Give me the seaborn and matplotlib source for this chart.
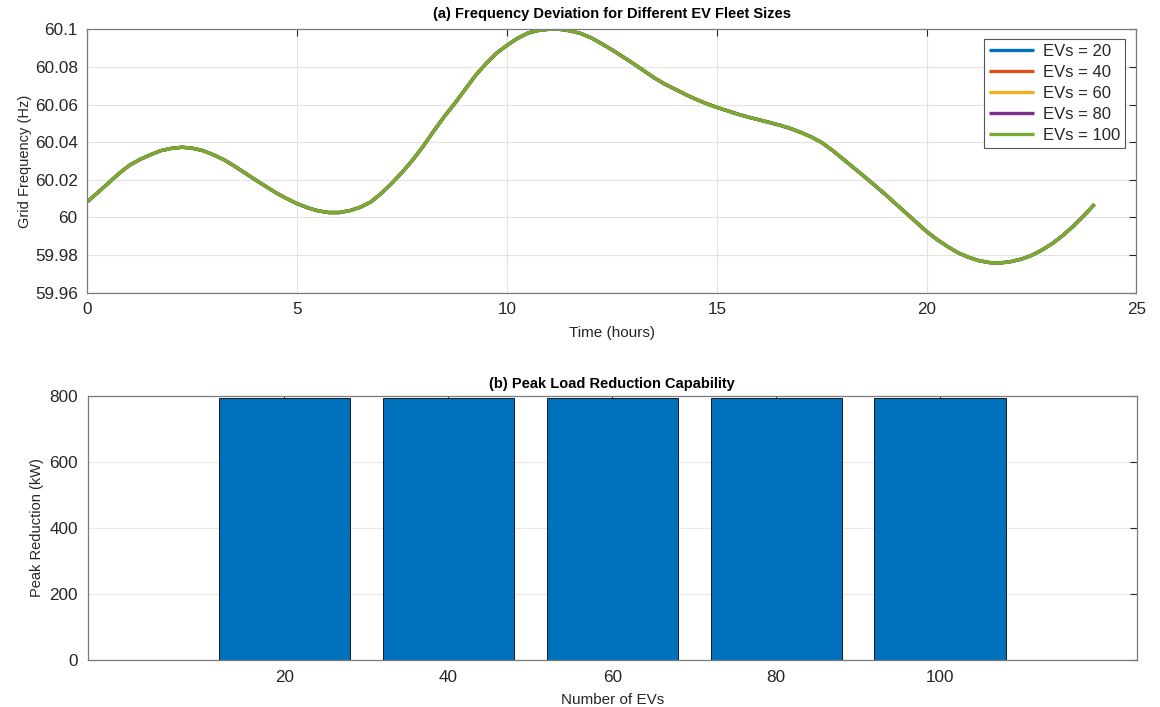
import numpy as np
import pandas as pd
import matplotlib
matplotlib.use('Agg')
import matplotlib.pyplot as plt
import seaborn as sns
from matplotlib.ticker import FuncFormatter

# frequency curve every quarter hour (same for every fleet size)
hours = [i * 0.25 for i in range(97)]
freq = [60.0084, 60.0133, 60.0183, 60.0233, 60.0277, 60.0308, 60.0333, 60.0355,
        60.0367, 60.0373, 60.0368, 60.0355, 60.0333, 60.0307, 60.0273, 60.0237,
        60.0200, 60.0165, 60.0130, 60.0100, 60.0073, 60.0051, 60.0035, 60.0026,
        60.0026, 60.0036, 60.0054, 60.0082, 60.0127, 60.0181, 60.0240, 60.0305,
        60.0378, 60.0458, 60.0535, 60.0605, 60.0680, 60.0755, 60.0818, 60.0873,
        60.0915, 60.0952, 60.0980, 60.0994, 60.1000, 60.1000, 60.0992, 60.0978,
        60.0955, 60.0924, 60.0891, 60.0855, 60.0819, 60.0781, 60.0743, 60.0710,
        60.0682, 60.0654, 60.0628, 60.0605, 60.0585, 60.0567, 60.0549, 60.0533,
        60.0519, 60.0505, 60.0490, 60.0473, 60.0452, 60.0428, 60.0398, 60.0357,
        60.0312, 60.0266, 60.0220, 60.0173, 60.0125, 60.0075, 60.0025, 59.9975,
        59.9925, 59.9882, 59.9845, 59.9812, 59.9788, 59.9770, 59.9760, 59.9758,
        59.9765, 59.9778, 59.9798, 59.9827, 59.9862, 59.9905, 59.9955, 60.0010,
        60.0070]

fleet_sizes = [20, 40, 60, 80, 100]
peak_reduction = [793, 793, 793, 793, 793]

line_colors = ['#0072BD', '#D95319', '#EDB120', '#7E2F8E', '#77AC30']
bar_color = '#0072BD'

sns.set_theme(style='white')
plt.rcParams['font.family'] = ['Liberation Sans', 'DejaVu Sans']

text_col = '#262626'

df = pd.DataFrame({
    'hour': np.tile(hours, len(fleet_sizes)),
    'freq': np.tile(freq, len(fleet_sizes)),
    'label': np.repeat([f'EVs = {n}' for n in fleet_sizes], len(hours)),
})
bars = pd.DataFrame({'evs': fleet_sizes, 'reduction': peak_reduction})

fig = plt.figure(figsize=(11.6, 7.07), dpi=100)
ax1 = fig.add_axes([0.0754, 0.586, 0.9043, 0.3726])
ax2 = fig.add_axes([0.0756, 0.0665, 0.9043, 0.3734])


def style_axes(ax):
    ax.tick_params(direction='in', top=True, right=True, length=5, width=0.8,
                   color=text_col, labelcolor=text_col, labelsize=12.3, pad=7)
    for s in ax.spines.values():
        s.set_color('#7a7a7a')
        s.set_linewidth(0.9)
    ax.set_axisbelow(True)


# (a) frequency lines
sns.lineplot(data=df, x='hour', y='freq', hue='label', palette=line_colors,
             linewidth=2.4, ax=ax1)
for ln in ax1.get_lines():
    ln.set_solid_joinstyle('round')
    ln.set_solid_capstyle('butt')
ax1.set_xlim(0, 25)
ax1.set_ylim(59.96, 60.1)
ax1.set_xticks(np.arange(0, 26, 5))
ax1.set_yticks(np.arange(59.96, 60.1001, 0.02))
ax1.yaxis.set_major_formatter(FuncFormatter(lambda v, p: f'{v:g}'))
ax1.grid(True, color='#e3e3e3', linewidth=0.8)
style_axes(ax1)
ax1.set_title('(a) Frequency Deviation for Different EV Fleet Sizes',
              fontsize=10.5, fontweight='bold', color='black', pad=8)
ax1.set_xlabel('Time (hours)', fontsize=11, color=text_col, labelpad=6)
ax1.set_ylabel('Grid Frequency (Hz)', fontsize=10.5, color=text_col, labelpad=2)
handles, labels = ax1.get_legend_handles_labels()
leg = ax1.legend(handles, labels, loc='upper right', bbox_to_anchor=(0.989, 0.963),
                 fontsize=12, frameon=True, fancybox=False, framealpha=1,
                 edgecolor='#555555', handlelength=2.7, handletextpad=0.5,
                 borderpad=0.3, labelspacing=0.36, borderaxespad=0)
leg.get_frame().set_linewidth(0.8)
for t in leg.get_texts():
    t.set_color(text_col)

# (b) peak reduction bars
sns.barplot(data=bars, x='evs', y='reduction', native_scale=True, color=bar_color,
            saturation=1, width=0.8, errorbar=None, edgecolor='black', linewidth=0.6,
            ax=ax2)
ax2.set_xlim(-4, 124)
ax2.set_ylim(0, 800)
ax2.set_xticks(fleet_sizes)
ax2.set_xticklabels([str(n) for n in fleet_sizes])
ax2.set_yticks(np.arange(0, 801, 200))
ax2.grid(True, axis='y', color='#e8e8e8', linewidth=0.8)
style_axes(ax2)
ax2.set_title('(b) Peak Load Reduction Capability',
              fontsize=10.5, fontweight='bold', color='black', pad=6)
ax2.set_xlabel('Number of EVs', fontsize=11, color=text_col, labelpad=6)
ax2.set_ylabel('Peak Reduction (kW)', fontsize=10.5, color=text_col, labelpad=4)

fig.savefig('out.png', dpi=100)
